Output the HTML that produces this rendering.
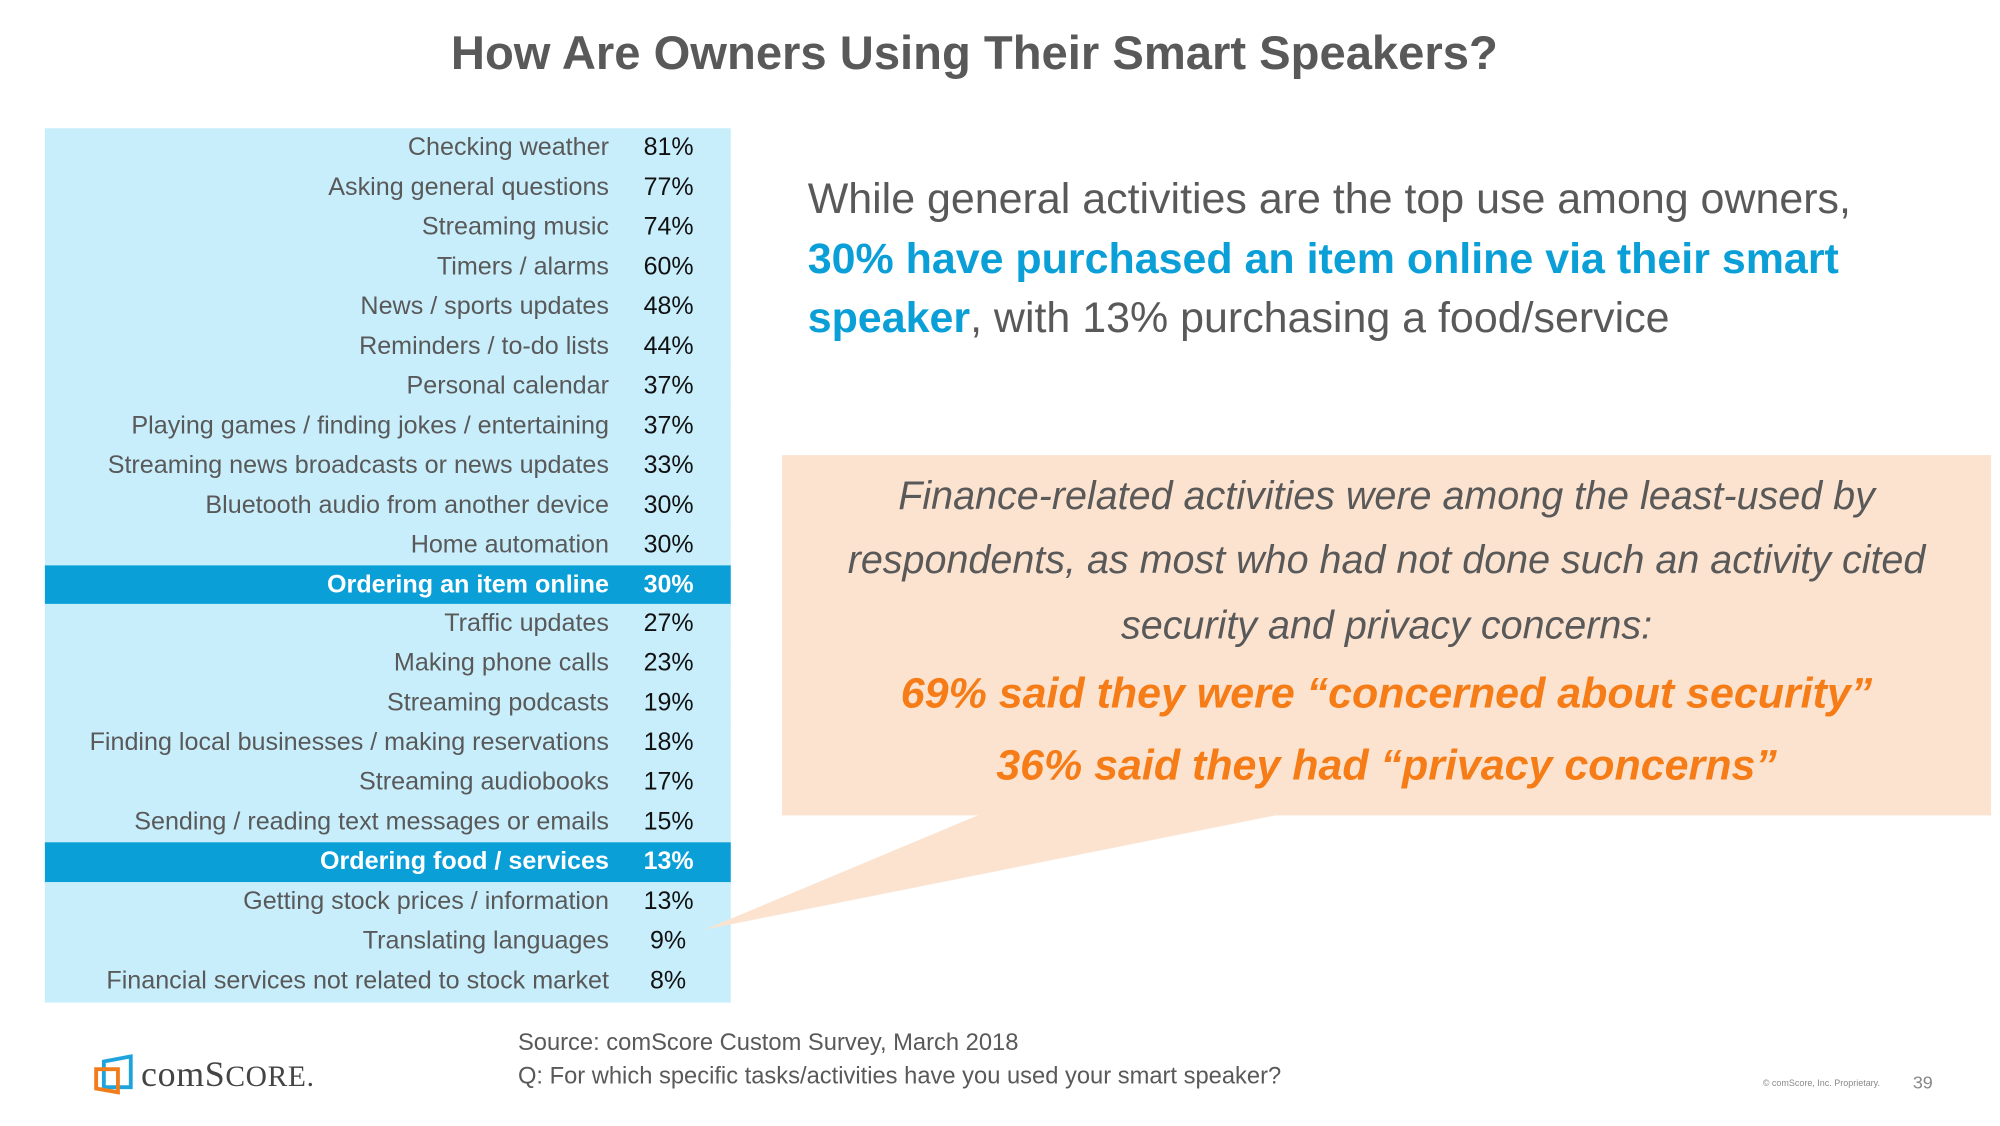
<!DOCTYPE html>
<html><head><meta charset="utf-8"><style>
html,body{margin:0;padding:0;background:#fff;width:2000px;height:1125px;overflow:hidden}
#stage{position:absolute;left:0;top:0;width:1560px;height:878px;transform:scale(1.28205);transform-origin:0 0;font-family:"Liberation Sans",sans-serif;color:#595959}
.abs{position:absolute}
.row{position:absolute;left:35px;width:535px;height:31px}
.lab{position:absolute;right:95px;top:0;line-height:31px;font-size:19.6px;white-space:nowrap}
.val{position:absolute;left:467px;top:0;line-height:31px;font-size:19.5px;color:#111;white-space:nowrap}
.hl .lab,.hl .val{color:#fff;font-weight:bold}
.ital{font-style:italic;font-size:30.8px;text-align:center;width:943px;left:610px;white-space:nowrap}
.org{font-style:italic;font-weight:bold;color:#f57c16;font-size:33.5px;text-align:center;width:943px;left:610px;white-space:nowrap}
</style></head><body>
<div id="stage">
<div class="abs" style="left:0;width:1520px;top:21px;text-align:center;font-size:36.8px;font-weight:bold;color:#595959">How Are Owners Using Their Smart Speakers?</div>
<div id="table" class="abs" style="left:0;top:0"></div>
<div class="abs" style="left:630px;top:133px;font-size:33.5px;line-height:46.5px;white-space:nowrap;color:#595959">While general activities are the top use among owners,<br><b style="color:#0b9fd8">30% have purchased an item online via their smart</b><br><b style="color:#0b9fd8">speaker</b>, with 13% purchasing a food/service</div>
<svg class="abs" style="left:0;top:0" width="1560" height="878">
<rect x="610" y="355" width="943" height="281" fill="#fce3d0"/>
<polygon points="765,635 1000,635 550,725" fill="#fce3d0"/>
</svg>
<div class="abs ital" style="top:369px">Finance-related activities were among the least-used by</div>
<div class="abs ital" style="top:419px">respondents, as most who had not done such an activity cited</div>
<div class="abs ital" style="top:470px">security and privacy concerns:</div>
<div class="abs org" style="top:523px">69% said they were “concerned about security”</div>
<div class="abs org" style="top:579px">36% said they had “privacy concerns”</div>
<div class="abs" style="left:404px;top:800px;font-size:18.5px;line-height:26px;white-space:nowrap">Source: comScore Custom Survey, March 2018<br>Q: For which specific tasks/activities have you used your smart speaker?</div>
<svg class="abs" style="left:72px;top:822px" width="34" height="34">
<polygon points="9,6 30,2 30,26 9,26" fill="none" stroke="#1fa3dc" stroke-width="3"/>
<polygon points="3,12 20,12 20,30 3,27" fill="none" stroke="#f07c1c" stroke-width="3"/>
</svg>
<div class="abs" style="left:110px;top:823px;font-family:'Liberation Serif',serif;font-size:28px;color:#444;letter-spacing:0.5px">comS<span style="font-size:23px">CORE.</span></div>
<div class="abs" style="left:1375px;top:842px;font-size:7px;color:#888">© comScore, Inc. Proprietary.</div>
<div class="abs" style="left:1492px;top:836px;font-size:14px;color:#888">39</div>
</div>
<script>
const labels=["Checking weather","Asking general questions","Streaming music","Timers / alarms","News / sports updates","Reminders / to-do lists","Personal calendar","Playing games / finding jokes / entertaining","Streaming news broadcasts or news updates","Bluetooth audio from another device","Home automation","Ordering an item online","Traffic updates","Making phone calls","Streaming podcasts","Finding local businesses / making reservations","Streaming audiobooks","Sending / reading text messages or emails","Ordering food / services","Getting stock prices / information","Translating languages","Financial services not related to stock market"];
const values=[81,77,74,60,48,44,37,37,33,30,30,30,27,23,19,18,17,15,13,13,9,8];
const highlighted=[11,18];
const table=document.getElementById('table');
const top0=100,rowH=681/labels.length;
labels.forEach((l,i)=>{
  const r=document.createElement('div');
  r.className='row'+(highlighted.includes(i)?' hl':'');
  
  
  r.style.top=(top0+i*rowH)+'px';
  r.style.height=Math.ceil(rowH+0.5)+'px';
  r.style.background=highlighted.includes(i)?'#0b9fd8':'#c8eefc';
  const a=document.createElement('div');a.className='lab';a.textContent=l;
  
  
  const v=document.createElement('div');v.className='val';v.textContent=values[i]+'%';
  
  
  if(values[i]<10)v.style.left='472px';
  r.appendChild(a);r.appendChild(v);table.appendChild(r);
});
</script>
</body></html>
